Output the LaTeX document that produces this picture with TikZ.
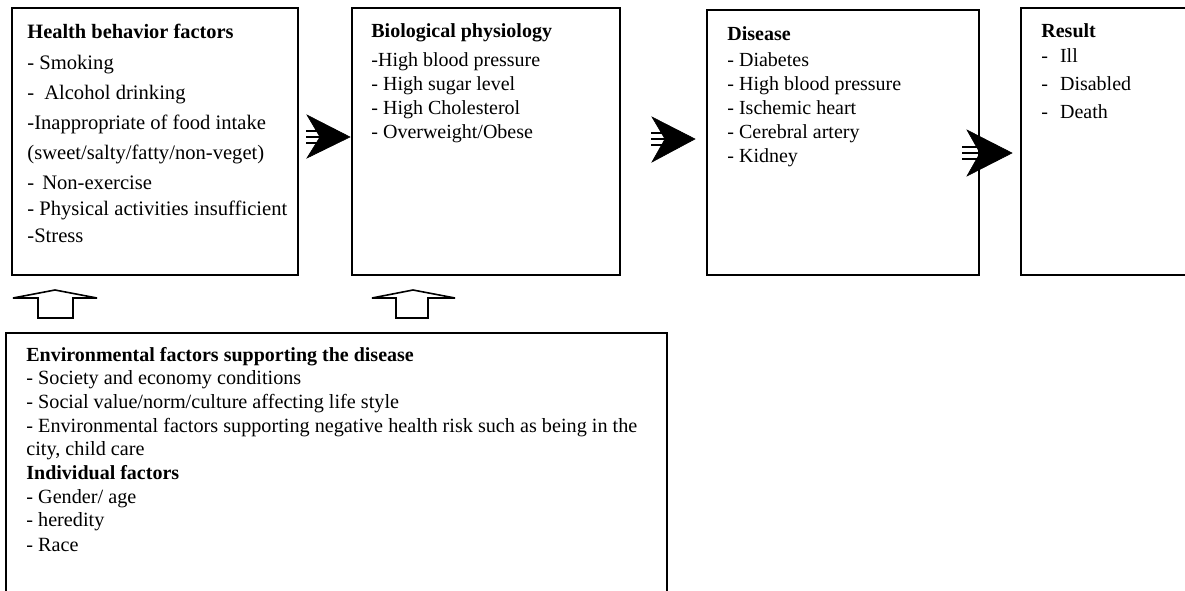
\documentclass[tikz,border=0pt]{standalone}
\usepackage{fontspec}
\setmainfont{Liberation Serif}
\begin{document}
\begin{tikzpicture}[x=0.5pt,y=-0.5pt,
  boxline/.style={draw=black,line width=1pt},
  txt/.style={anchor=base west,inner sep=0pt,font=\fontsize{10}{12}\selectfont},
  txtE/.style={anchor=base west,inner sep=0pt,font=\fontsize{10.1}{12}\selectfont},
  txtA/.style={anchor=base west,inner sep=0pt,font=\fontsize{10.3}{12}\selectfont},
  ttl/.style={anchor=base west,inner sep=0pt,font=\fontsize{10}{12}\selectfont\bfseries},
  ttlA/.style={anchor=base west,inner sep=0pt,font=\fontsize{10.2}{12}\selectfont\bfseries},
  headfill/.style={fill=black,draw=black,line width=0.3pt},
  stripe/.style={draw=black,line width=1.2pt},
  uparrow/.style={draw=black,line width=0.8pt,fill=white,line join=miter}
]
\clip (0,0) rectangle (1185,590);
\fill[white] (0,0) rectangle (1185,590);

% boxes
\draw[boxline] (12,8) rectangle (298,275) coordinate (b1);
\draw[boxline] (352,8) rectangle (620,275) coordinate (b2);
\draw[boxline] (707,10) rectangle (979,275) coordinate (b3);
\draw[boxline] (1021,8) rectangle (1200,275) coordinate (b4);
\draw[boxline] (6,333) rectangle (667,600) coordinate (b5);

% box 1 text
\node[ttlA] (h0) at (27,38) {Health behavior factors};
\node[txtA] (h1) at (27,69) {- Smoking};
\node[txtA] (h2) at (27,99) {-\hskip 5pt Alcohol drinking};
\node[txtA] (h3) at (27,129) {-Inappropriate of food intake};
\node[txtA] (h4) at (27,159) {(sweet/salty/fatty/non-veget)};
\node[txtA] (h5) at (27,189) {-\hskip 4pt Non-exercise};
\node[txtA] (h6) at (27,215) {- Physical activities insufficient};
\node[txtA] (h7) at (27,242) {-Stress};

% box 2 text
\node[ttl] (p0) at (371,37) {Biological physiology};
\node[txt] (p1) at (371,66) {-High blood pressure};
\node[txt] (p2) at (371,90) {- High sugar level};
\node[txt] (p3) at (371,114) {- High Cholesterol};
\node[txt] (p4) at (371,138) {- Overweight/Obese};

% box 3 text
\node[ttl] (d0) at (727,40) {Disease};
\node[txt] (d1) at (727,66) {- Diabetes};
\node[txt] (d2) at (727,90) {- High blood pressure};
\node[txt] (d3) at (727,114) {- Ischemic heart};
\node[txt] (d4) at (727,138) {- Cerebral artery};
\node[txt] (d5) at (727,162) {- Kidney};

% box 4 text
\node[ttl] (r0) at (1041,37) {Result};
\node[txt] (r1) at (1041,62) {-\hskip 6pt Ill};
\node[txt] (r2) at (1041,90) {-\hskip 6pt Disabled};
\node[txt] (r3) at (1041,118) {-\hskip 6pt Death};

% env box text
\node[ttl] (e0) at (26,361) {Environmental factors supporting the disease};
\node[txtE] (e1) at (26,384) {- Society and economy conditions};
\node[txtE] (e2) at (26,408) {- Social value/norm/culture affecting life style};
\node[txtE] (e3) at (26,432) {- Environmental factors supporting negative health risk such as being in the};
\node[txtE] (e4) at (26,455) {city, child care};
\node[ttl] (e5) at (26,479) {Individual factors};
\node[txtE] (e6) at (26,503) {- Gender/ age};
\node[txtE] (e7) at (26,526) {- heredity};
\node[txtE] (e8) at (26,551) {- Race};

% striped right arrows
\fill[headfill] (307,115) -- (350,137) -- (307,158) -- (320,137) -- cycle;
\draw[stripe] (306,131) -- (318,131) (306,137) -- (320,137) (306,143) -- (318,143);

\fill[headfill] (652,117) -- (695,139) -- (652,162) -- (665,139) -- cycle;
\draw[stripe] (651,133) -- (663,133) (651,139) -- (665,139) (651,145) -- (663,145);

\fill[headfill] (967,130) -- (1012,153) -- (967,176) -- (980,153) -- cycle;
\draw[stripe] (962,147) -- (978,147) (962,153) -- (980,153) (962,159) -- (978,159);

% up arrows
\draw[uparrow] (38,318) -- (38,298) -- (13,298) -- (55,290) -- (97,298) -- (73,298) -- (73,318) -- cycle;
\draw[uparrow] (396,318) -- (396,298) -- (372,298) -- (413,290) -- (455,298) -- (428,298) -- (428,318) -- cycle;
\end{tikzpicture}
\end{document}
